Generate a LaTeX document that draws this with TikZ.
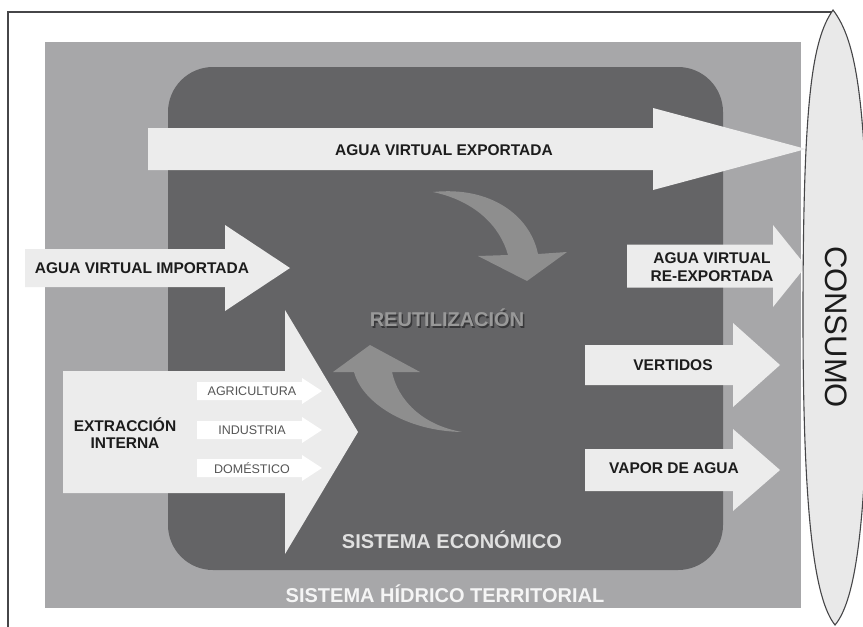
\documentclass[tikz,border=0pt]{standalone}
\usepackage{fontspec}
\setmainfont{Liberation Sans}
\usetikzlibrary{positioning}

\definecolor{framedark}{RGB}{70,70,72}
\definecolor{hidrico}{RGB}{167,167,169}
\definecolor{economico}{RGB}{100,100,102}
\definecolor{flowgray}{RGB}{236,236,236}
\definecolor{loopgray}{RGB}{142,142,142}
\definecolor{consumogray}{RGB}{233,233,233}
\definecolor{inkdark}{RGB}{28,28,28}

% block arrow: style, x start, x head base, x tip, y centre, body half, head half
\newcommand{\flowarrow}[7]{%
	\path[#1] ({#2},{#5-#6}) -- ({#3},{#5-#6}) -- ({#3},{#5-#7}) -- ({#4},{#5})
		-- ({#3},{#5+#7}) -- ({#3},{#5+#6}) -- ({#2},{#5+#6}) -- cycle;}

\begin{document}
\begin{tikzpicture}[
	x=1pt, y=-1pt,
	nodes = {
		inner sep=0pt,
		align = center
	},
	label/.style={
		text=inkdark,
		font=\bfseries\fontsize{15.5}{17.5}\selectfont
	},
	sector/.style={
		text=inkdark!75,
		font=\fontsize{12.5}{14}\selectfont
	},
	system/.style={
		font=\bfseries\fontsize{20}{22}\selectfont
	},
	flow/.style={fill=flowgray},
	subflow/.style={fill=white},
	loop/.style={fill=loopgray}
]
	\useasboundingbox (0,0) rectangle (863,627);
	\fill[white] (0,0) rectangle (863,627);

	%% frames
	\draw[framedark, line width=1.1pt] (8,627) -- (8,12) -- (833,12);
	\fill[hidrico] (45,42) rectangle (801,608);
	\fill[economico, rounded corners=45pt] (168,67) rectangle (723,570);

	%% flows
	\flowarrow{flow}{148}{653}{806}{149}{21}{41}
	\flowarrow{flow}{25}{225}{290}{268}{19}{43}
	\flowarrow{flow}{63}{285}{358}{432}{61}{122}
	\flowarrow{flow}{627}{773}{806}{266}{21.5}{41}
	\flowarrow{flow}{585}{733}{780}{365}{20}{42}
	\flowarrow{flow}{585}{733}{780}{470}{21}{41}

	\flowarrow{subflow}{197}{302}{322}{391}{9}{13}
	\flowarrow{subflow}{197}{302}{322}{430}{9}{13}
	\flowarrow{subflow}{197}{302}{322}{468}{9}{13}

	%% reuse loop
	\path[loop] (433,192) .. controls (490,186) and (530,215) .. (538,254)
		-- (567,252) -- (527,281) -- (478,256) -- (508,255)
		.. controls (500,226) and (475,201) .. cycle;
	\path[loop] (462,432) .. controls (405,431) and (362,402) .. (354,372)
		-- (333,372) -- (370,345) -- (420,372) -- (392,372)
		.. controls (398,400) and (422,425) .. cycle;

	%% labels
	\node[label] (exportada) at (444,150) {AGUA VIRTUAL EXPORTADA};
	\node[label] (importada) at (142,268) {AGUA VIRTUAL IMPORTADA};
	\node[label] (extraccion) at (125,433) {EXTRACCIÓN\\INTERNA};
	\node[label] (reexportada) at (712,267) {AGUA VIRTUAL\\RE-EXPORTADA};
	\node[label] (vertidos) at (673,365) {VERTIDOS};
	\node[label] (vapor) at (674,468) {VAPOR DE AGUA};

	\node[sector] (agricultura) at (252,391) {AGRICULTURA};
	\node[sector] (industria) [below=39pt of agricultura.center, anchor=center] {INDUSTRIA};
	\node[sector] (domestico) [below=38pt of industria.center, anchor=center] {DOMÉSTICO};

	\node[system, text=framedark!80!black] (reuso_sombra) at (448.5,319.5) {REUTILIZACIÓN};
	\node[system, text=loopgray!90!white] (reuso) at (447,318) {REUTILIZACIÓN};

	\node[system, text=white!80!economico] (economico) at (452,540) {SISTEMA ECONÓMICO};
	\node[system, text=white!88!hidrico] (hidrico) at (445,594) {SISTEMA HÍDRICO TERRITORIAL};

	%% consumption
	\filldraw[fill=consumogray, draw=framedark, line width=1.1pt] (833,10)
		.. controls (812,40) and (803,100) .. (803,317)
		.. controls (803,520) and (815,600) .. (835,625)
		.. controls (856,600) and (868,520) .. (868,317)
		.. controls (868,100) and (856,40) .. cycle;
	\node[rotate=-90, text=inkdark, font=\fontsize{31}{33}\selectfont] (consumo) at (836,327) {CONSUMO};
\end{tikzpicture}
\end{document}
